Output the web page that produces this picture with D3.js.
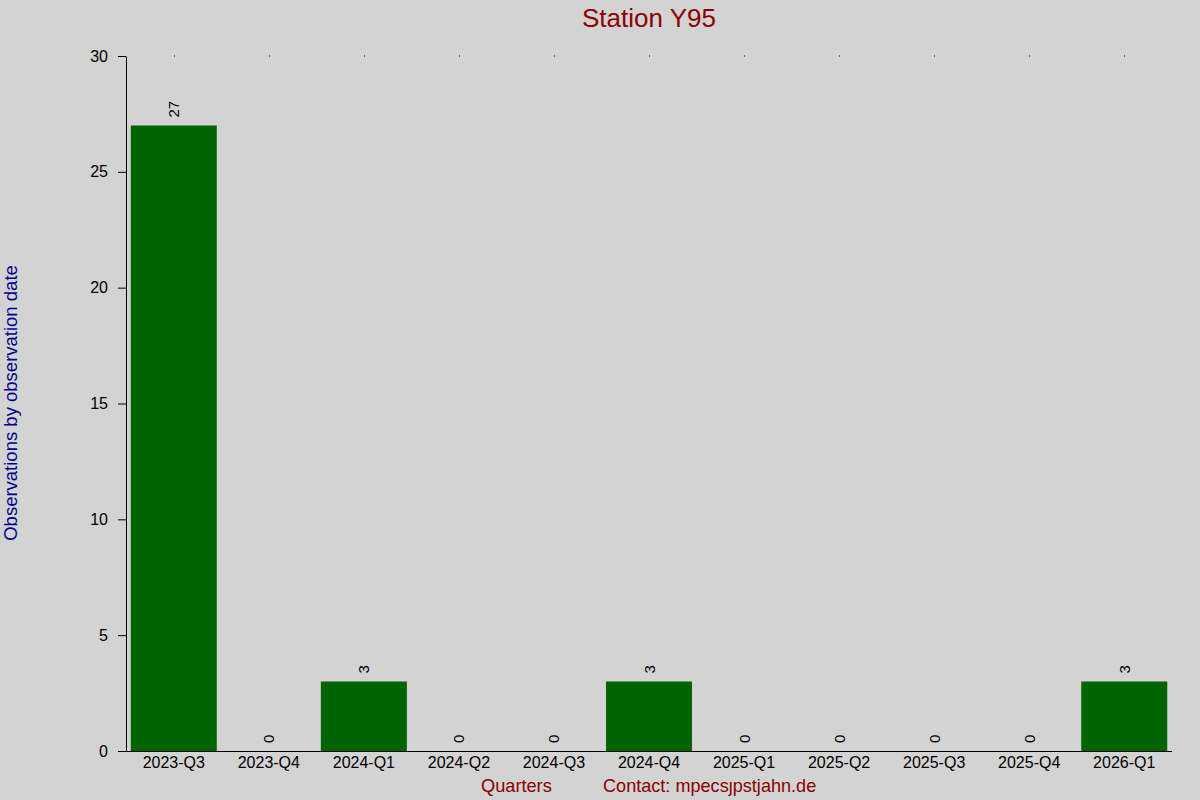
<!DOCTYPE html>
<html>
<head>
<meta charset="utf-8">
<script src="https://cdn.jsdelivr.net/npm/d3@7"></script>
<style>
  body { margin: 0; background: #d3d3d3; }
  svg { font-family: "Liberation Sans", Arial, sans-serif; }
</style>
</head>
<body>
<svg id="chart" width="1200" height="800"></svg>
<script>
// data
var quarters = ["2023-Q3", "2023-Q4", "2024-Q1", "2024-Q2", "2024-Q3", "2024-Q4",
                "2025-Q1", "2025-Q2", "2025-Q3", "2025-Q4", "2026-Q1"];
var counts = [27, 0, 3, 0, 0, 3, 0, 0, 0, 0, 3];
var yTicks = [0, 5, 10, 15, 20, 25, 30];

var svg = d3.select("#chart"),
    width = +svg.attr("width"),
    height = +svg.attr("height");

var margin = {top: 56, right: 28, bottom: 49, left: 126};

svg.append("rect")
    .attr("width", width)
    .attr("height", height)
    .attr("fill", "#d3d3d3");

var x = d3.scaleBand()
    .domain(quarters)
    .range([margin.left, width - margin.right])
    .paddingInner(0.095)
    .paddingOuter(0.05);

var y = d3.scaleLinear()
    .domain([0, 30])
    .range([height - margin.bottom, margin.top]);

var rows = quarters.map(function (q, i) { return {q: q, v: counts[i]}; });

// tiny marks along the top
svg.append("g")
    .selectAll("rect")
    .data(quarters)
    .enter()
    .append("rect")
    .attr("x", function (d) { return Math.round(x(d) + x.bandwidth() / 2); })
    .attr("y", y(30) - 0.5)
    .attr("width", 1)
    .attr("height", 1)
    .attr("fill", "#000");

// bars
svg.append("g")
    .selectAll("rect")
    .data(rows)
    .enter()
    .append("rect")
    .attr("x", function (d) { return x(d.q); })
    .attr("y", function (d) { return y(d.v); })
    .attr("width", x.bandwidth())
    .attr("height", function (d) { return y(0) - y(d.v); })
    .attr("fill", "#006400");

// value labels, turned upright
svg.append("g")
    .selectAll("text")
    .data(rows)
    .enter()
    .append("text")
    .attr("transform", function (d) {
        return "translate(" + (x(d.q) + x.bandwidth() / 2 + 5.5) + "," + (y(d.v) - 8) + ") rotate(-90)";
    })
    .attr("font-size", 15)
    .attr("fill", "#000")
    .text(function (d) { return d.v; });

// x axis
var xAxis = svg.append("g")
    .attr("transform", "translate(0," + y(0) + ")")
    .call(d3.axisBottom(x).tickSize(0).tickPadding(6));
xAxis.select(".domain").attr("d", "M" + (margin.left - 8) + ",0.5H" + (width - margin.right));
xAxis.selectAll("text")
    .attr("font-size", 16)
    .attr("font-family", "Liberation Sans, Arial, sans-serif")
    .attr("fill", "#000");

// y axis
var yAxis = svg.append("g")
    .attr("transform", "translate(" + margin.left + ",0)")
    .call(d3.axisLeft(y).tickValues(yTicks).tickSize(8).tickPadding(10).tickSizeOuter(0));
yAxis.selectAll("text")
    .attr("font-size", 16)
    .attr("font-family", "Liberation Sans, Arial, sans-serif")
    .attr("fill", "#000");

// title and axis labels
svg.append("text")
    .attr("x", 649)
    .attr("y", 27)
    .attr("text-anchor", "middle")
    .attr("font-size", 26)
    .attr("fill", "#8b0000")
    .text("Station Y95");

svg.append("text")
    .attr("transform", "translate(17,403) rotate(-90)")
    .attr("text-anchor", "middle")
    .attr("font-size", 18.5)
    .attr("fill", "#00008b")
    .text("Observations by observation date");

svg.append("text")
    .attr("x", 481)
    .attr("y", 792)
    .attr("font-size", 18.2)
    .attr("fill", "#8b0000")
    .text("Quarters");

svg.append("text")
    .attr("x", 603)
    .attr("y", 792)
    .attr("font-size", 18.1)
    .attr("fill", "#8b0000")
    .text("Contact: mpecs\u0237pstjahn.de");
</script>
</body>
</html>
